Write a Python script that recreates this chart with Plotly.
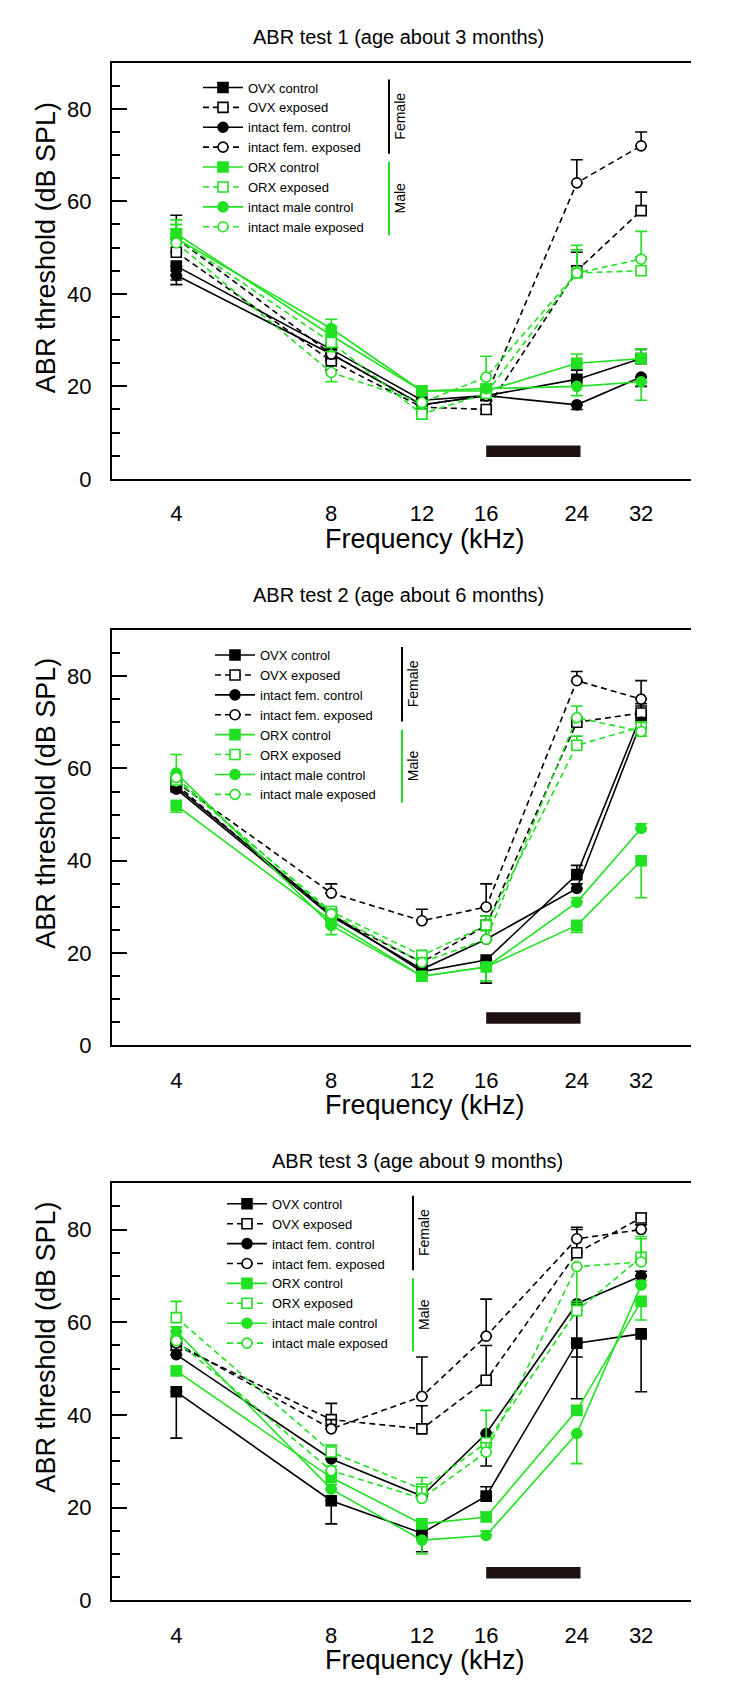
import math
import plotly.graph_objects as go

# ---------------- data ----------------
FREQS = [4, 8, 12, 16, 24, 32]
TICK_LABELS = ["4", "8", "12", "16", "24", "32"]
Y_TICKS = [0, 20, 40, 60, 80]
SERIES = ["OVX control", "OVX exposed", "intact fem. control", "intact fem. exposed",
          "ORX control", "ORX exposed", "intact male control", "intact male exposed"]
TITLES = ["ABR test 1 (age about 3 months)",
          "ABR test 2 (age about 6 months)",
          "ABR test 3 (age about 9 months)"]
EXPOSURE_BAND_KHZ = [16, 24.4]
EXPOSURE_BAR_DB = [4.7, 7.2]

# mean thresholds (dB SPL), one list per series in SERIES order
TEST1_MEAN = [
    [46, 28, 17, 18, 21.5, 26],
    [49, 25.5, 15.5, 15, 45, 58],
    [44, 27, 16, 18, 16, 22],
    [52, 27, 16, 18, 64, 72],
    [53, 31, 19, 19, 25, 26],
    [52, 29.5, 14, 18.5, 44.5, 45],
    [52, 32.5, 19, 19.5, 20, 21],
    [51, 23, 16.5, 22, 44.5, 47.5],
]
# error bars (+ drawn upward, - drawn downward)
TEST1_ERR = [
    [-3, -2, -1, -1, 2, 2],
    [3, -2, -1, -1, 4, 4],
    [-2, -1, -1, -1, -1, -2],
    [5, 2, 1, 1, 5, 3],
    [3, 2, 1, 1, 2, 2],
    [3, -2, -1, 2, 5, 3],
    [3, 2, 1, 1, -2, -4],
    [3, -2, -1, 4.5, 6, 6],
]

TEST2_MEAN = [
    [56, 28.5, 16, 18.5, 37, 71.5],
    [56.5, 28, 18, 26, 70, 72],
    [55.5, 28, 16.5, 23, 34, 70],
    [57, 33, 27, 30, 79, 75],
    [52, 27, 15, 17, 26, 40],
    [57.5, 29, 19.5, 26, 65, 69],
    [59, 26, 15, 17, 31, 47],
    [58, 28.5, 18, 23, 71, 68],
]
TEST2_ERR = [
    [-1, 1, -1, -5, 2, 2],
    [1, 1, 1, 2, 1, 2],
    [1, 1, -1, 2, 1, 1],
    [1, 2, 2.5, 5, 2, 4],
    [-1.5, 1, -1, -3, -1.5, -8],
    [1, 1, 1, 2, 2, -2],
    [4, -2, -1, -3, 1, 1],
    [1, 1, 1, 2, 2.5, 2],
]

TEST3_MEAN = [
    [45, 21.5, 14.5, 22.5, 55.5, 57.5],
    [55, 39, 37, 47.5, 75, 82.5],
    [53, 30.5, 22.5, 36, 64, 70],
    [55.5, 37, 44, 57, 78, 80],
    [49.5, 26.5, 16.5, 18, 41, 64.5],
    [61, 32, 24, 34, 62.5, 74],
    [58, 24, 13, 14, 36, 68],
    [56, 28, 22, 32, 72, 73],
]
TEST3_ERR = [
    [-10, -5, -4, 2, -12, -12.5],
    [1, 3.5, 5, 7.5, 5, 1],
    [1, 1, 1, -7, -11.5, 1],
    [1, 2, 8.5, 8, 2.5, 1],
    [1, 1, 1, 1, 1, -4],
    [3.5, 1.5, 2.5, 7, 2, 4.5],
    [1, 1, -3, 1, -6.5, 1],
    [1, 1, 2.5, 2, -8, 5],
]

MEANS = [TEST1_MEAN, TEST2_MEAN, TEST3_MEAN]
ERRS = [TEST1_ERR, TEST2_ERR, TEST3_ERR]

# ---------------- styling ----------------
W, H = 756, 1692
FONT = "Liberation Sans, Arial, sans-serif"
GREEN = "#22e022"
BLACK = "#000000"
BAR_COLOR = "#1e1010"
STYLES = [
    (BLACK, "solid", "square", True),
    (BLACK, "6px,4px", "square", False),
    (BLACK, "solid", "circle", True),
    (BLACK, "6px,4px", "circle", False),
    (GREEN, "solid", "square", True),
    (GREEN, "6px,4px", "square", False),
    (GREEN, "solid", "circle", True),
    (GREEN, "6px,4px", "circle", False),
]

def px_x(px):
    return px / W

def px_y(px):
    return 1 - px / H

PLOT_LEFT, PLOT_RIGHT = 104, 683
PANEL_TOP = [55, 626.7, 1184.3]
PANEL_BOTTOM = [474.5, 1045.5, 1604.7]
TITLE_Y = [29, 591.7, 1161.7]
TITLE_X = [390, 390, 409]
XTITLE_Y = [535, 1105, 1665]
YTITLE_Y = [242, 802, 1350]
LEGEND_LEFT = [190, 202, 214]
LEGEND_TOP = [65, 637, 1190]
BRACKET_X = [381, 394, 405]
ROW_H = 19.0

fig = go.Figure()
layout_updates = {}
shapes = []
annotations = []

def note(text, x, y, size, angle=0):
    annotations.append(dict(text=text, xref="paper", yref="paper", x=px_x(x), y=px_y(y),
                            xanchor="center", yanchor="middle", textangle=angle,
                            showarrow=False, font=dict(family=FONT, size=size, color="black")))

for p in range(3):
    sfx = "" if p == 0 else str(p + 1)
    xa, ya = "x" + sfx, "y" + sfx
    lg = "legend" + sfx
    for s in range(len(SERIES)):
        color, dash, sym, filled = STYLES[s]
        errs = ERRS[p][s]
        up = [max(e, 0) for e in errs]
        dn = [max(-e, 0) for e in errs]
        fig.add_trace(go.Scatter(
            x=FREQS, y=MEANS[p][s], name=SERIES[s], mode="lines+markers",
            xaxis=xa, yaxis=ya, legend=lg,
            line=dict(color=color, width=1.6, dash=dash),
            marker=dict(symbol=sym, size=10,
                        color=color if filled else "white",
                        line=dict(color=color, width=1.6)),
            error_y=dict(type="data", symmetric=False, array=up, arrayminus=dn,
                         color=color, thickness=1.6, width=6),
        ))

    dom_y = [px_y(PANEL_BOTTOM[p]), px_y(PANEL_TOP[p])]
    layout_updates["xaxis" + sfx] = dict(
        type="log", range=[math.log10(3), math.log10(40)], domain=[px_x(PLOT_LEFT), px_x(PLOT_RIGHT)],
        anchor=ya, tickvals=FREQS, ticktext=TICK_LABELS, ticks="",
        showline=True, linewidth=2, linecolor="black", mirror=True,
        showgrid=False, zeroline=False, ticklabelstandoff=14,
        tickfont=dict(family=FONT, size=22, color="black"))
    layout_updates["yaxis" + sfx] = dict(
        range=[0, 90], domain=dom_y, anchor=xa, tickvals=Y_TICKS,
        ticks="inside", ticklen=15, tickwidth=2, tickcolor="black",
        minor=dict(ticks="inside", ticklen=8, tickwidth=2, tickcolor="black", tick0=0, dtick=5),
        showline=True, linewidth=2, linecolor="black",
        showgrid=False, zeroline=False, ticklabelstandoff=14,
        tickfont=dict(family=FONT, size=22, color="black"))
    layout_updates[lg] = dict(
        x=px_x(LEGEND_LEFT[p]), y=px_y(LEGEND_TOP[p]), xanchor="left", yanchor="top",
        bgcolor="rgba(0,0,0,0)", font=dict(family=FONT, size=13, color="black"),
        itemwidth=40, tracegroupgap=0, borderwidth=0)

    # exposure bar
    shapes.append(dict(type="rect", xref=xa, yref=ya,
                       x0=EXPOSURE_BAND_KHZ[0], x1=EXPOSURE_BAND_KHZ[1],
                       y0=EXPOSURE_BAR_DB[0], y1=EXPOSURE_BAR_DB[1],
                       fillcolor=BAR_COLOR, line=dict(width=0), layer="above"))

    # Female / Male brackets
    bx = BRACKET_X[p]
    t0 = LEGEND_TOP[p] + 8
    f_top, f_bot = t0 - 1, t0 + 4 * ROW_H - 2
    m_top, m_bot = t0 + 4 * ROW_H + 6, t0 + 8 * ROW_H + 4
    shapes.append(dict(type="line", xref="paper", yref="paper",
                       x0=px_x(bx), x1=px_x(bx), y0=px_y(f_top), y1=px_y(f_bot),
                       line=dict(color=BLACK, width=2)))
    shapes.append(dict(type="line", xref="paper", yref="paper",
                       x0=px_x(bx), x1=px_x(bx), y0=px_y(m_top), y1=px_y(m_bot),
                       line=dict(color=GREEN, width=2)))
    note("Female", bx + 11, (f_top + f_bot) / 2, 14, -90)
    note("Male", bx + 11, (m_top + m_bot) / 2, 14, -90)

    # titles
    note(TITLES[p], TITLE_X[p], TITLE_Y[p], 20)
    note("Frequency (kHz)", 417, XTITLE_Y[p], 27)
    note("ABR threshold (dB SPL)", 38, YTITLE_Y[p], 27, -90)

fig.update_layout(
    width=W, height=H, margin=dict(l=0, r=0, t=0, b=0),
    paper_bgcolor="white", plot_bgcolor="white", showlegend=True,
    shapes=shapes, annotations=annotations, **layout_updates)

fig.write_html("out.html")
